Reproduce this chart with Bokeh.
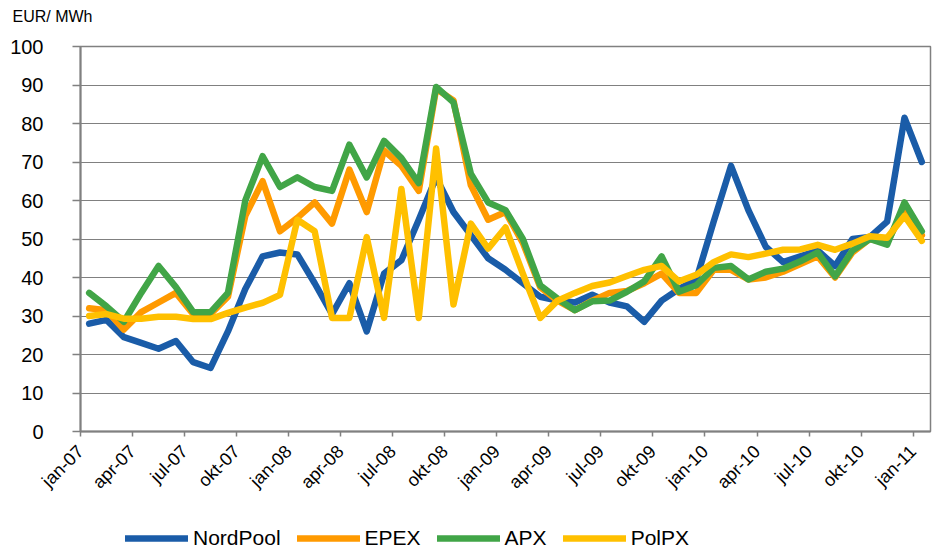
import math
from bokeh.plotting import figure
from bokeh.models import Range1d, FixedTicker, Legend, LegendItem
from bokeh.layouts import column
from bokeh.embed import file_html
from bokeh.resources import INLINE

# Monthly index: Jan 2007 .. Jan 2011 (49 months)
months = list(range(49))

tick_labels = ["jan-07", "apr-07", "jul-07", "okt-07", "jan-08", "apr-08",
               "jul-08", "okt-08", "jan-09", "apr-09", "jul-09", "okt-09",
               "jan-10", "apr-10", "jul-10", "okt-10", "jan-11"]

nordpool = [28, 29, 24.5, 23, 21.5, 23.5, 18, 16.5, 26, 37, 45.5, 46.5, 46,
            38.5, 30.5, 38.5, 26, 41, 44.5, 55, 66, 57, 51, 45, 42, 38.5, 35,
            34, 33.5, 35.5, 33.5, 32.5, 28.5, 34, 37, 39.5, 54.5, 69, 57.5, 48,
            44, 45.5, 47, 43, 50, 50.5, 54.5, 81.5, 70]

epex = [32, 31.5, 26.5, 31, 33.5, 36, 30.5, 30.5, 35, 56, 65, 52, 55.5,
        59.5, 54, 68, 57, 73, 69, 62.5, 89, 86, 64, 55, 57, 49, 37.5,
        34, 31.5, 34, 36, 36.5, 38.5, 41, 36, 36, 42, 42, 39.5, 40,
        41.5, 43.5, 45.5, 40, 46.5, 50, 49, 58, 51]

apx = [36, 32.5, 28.5, 36, 43, 37.5, 31, 31, 36, 60, 71.5, 63.5, 66,
       63.5, 62.5, 74.5, 66, 75.5, 71, 64.5, 89.5, 85.5, 67, 59.5, 57.5, 50, 38,
       34.5, 31.5, 33.8, 34, 36.3, 39, 45.5, 36.3, 38, 42.5, 43, 39.5, 41.5,
       42.3, 44.2, 46.5, 40.3, 47, 50, 48.5, 59.5, 52]

polpx = [30, 30.5, 29.3, 29.3, 29.8, 29.8, 29.2, 29.2, 30.8, 32.2, 33.4, 35.5, 55,
         52, 29.5, 29.5, 50.5, 29.5, 63, 29.5, 73.5, 33, 54, 47.5, 53, 41, 29.5,
         34, 36, 37.8, 38.7, 40.4, 42, 43, 39, 40.7, 44, 46, 45.3, 46.2,
         47.2, 47.3, 48.5, 47.2, 48.8, 50.7, 50.3, 56, 49.5]

series_names = ["NordPool", "EPEX", "APX", "PolPX"]
series_colors = ["#1A5CA8", "#FF9A00", "#41A547", "#FFC000"]
series_data = [nordpool, epex, apx, polpx]

FONT = "Liberation Sans"
GRAY = "#808080"
LW = 6.5


def strip(height):
    f = figure(width=937, height=height, x_range=Range1d(1000, 1001),
               y_range=Range1d(1000, 1001), output_backend="svg",
               toolbar_location=None, x_axis_location=None, y_axis_location=None,
               min_border=0, background_fill_color="white", border_fill_color="white")
    f.outline_line_color = None
    f.grid.visible = False
    return f


# Top strip carrying the unit label
ptop = strip(35)
ptop.title.text = "EUR/ MWh"
ptop.title.align = "left"
ptop.title.vertical_align = "top"
ptop.title.offset = -68
ptop.title.standoff = 14
ptop.title.text_font = FONT
ptop.title.text_font_size = "16px"
ptop.title.text_font_style = "normal"
ptop.title.text_color = "black"

# Main chart
p = figure(width=937, height=485,
           x_range=Range1d(-0.5, len(months) - 0.5), y_range=Range1d(0, 100),
           output_backend="svg", toolbar_location=None,
           min_border_left=80, min_border_right=7,
           min_border_top=11, min_border_bottom=89,
           background_fill_color="white", border_fill_color="white")
p.title.visible = False
p.outline_line_color = GRAY
p.outline_line_width = 1.5

for col, data in zip(series_colors, series_data):
    p.line(months, data, line_color=col, line_width=LW,
           line_join="round", line_cap="round")

# Y axis
p.yaxis.ticker = FixedTicker(ticks=list(range(0, 101, 10)))
p.yaxis.major_label_text_font = FONT
p.yaxis.major_label_text_font_size = "20px"
p.yaxis.major_label_text_color = "black"
p.yaxis.major_tick_out = 8
p.yaxis.major_tick_in = 0
p.yaxis.minor_tick_line_color = None
p.yaxis.major_label_standoff = 29
p.yaxis.axis_line_color = GRAY
p.yaxis.axis_line_width = 2
p.yaxis.major_tick_line_color = GRAY
p.yaxis.major_tick_line_width = 1.5

# X axis: ticks between categories every quarter, rotated labels
boundaries = [3 * k - 0.5 for k in range(len(tick_labels))]
p.xaxis.ticker = FixedTicker(ticks=boundaries)
p.xaxis.major_label_overrides = {b: t for b, t in zip(boundaries, tick_labels)}
p.xaxis.major_label_orientation = math.pi / 4
p.xaxis.major_label_text_font = FONT
p.xaxis.major_label_text_font_size = "18px"
p.xaxis.major_label_text_color = "black"
p.xaxis.major_label_standoff = 12
p.xaxis.major_tick_out = 5
p.xaxis.major_tick_in = 0
p.xaxis.minor_tick_line_color = None
p.xaxis.axis_line_color = GRAY
p.xaxis.axis_line_width = 2
p.xaxis.major_tick_line_color = GRAY
p.xaxis.major_tick_line_width = 1.5

p.xgrid.visible = False
p.ygrid.grid_line_color = GRAY
p.ygrid.grid_line_width = 1

# Legend strip below the chart (series drawn outside its visible range,
# only their legend glyphs show)
pl = strip(30)
leg_renderers = [pl.line(months, data, line_color=c, line_width=LW, line_cap="round")
                 for c, data in zip(series_colors, series_data)]
items = [LegendItem(label=n, renderers=[r]) for n, r in zip(series_names, leg_renderers)]
legend = Legend(items=items, location=(45, 0), orientation="horizontal",
                label_text_font=FONT, label_text_font_size="21px",
                label_text_color="black",
                glyph_width=63, glyph_height=24, label_height=24,
                label_standoff=5, spacing=16, padding=0, margin=0,
                border_line_color=None, background_fill_alpha=0)
pl.add_layout(legend)

layout = column(ptop, p, pl, spacing=0)
open("out.html", "w").write(file_html(layout, INLINE))
